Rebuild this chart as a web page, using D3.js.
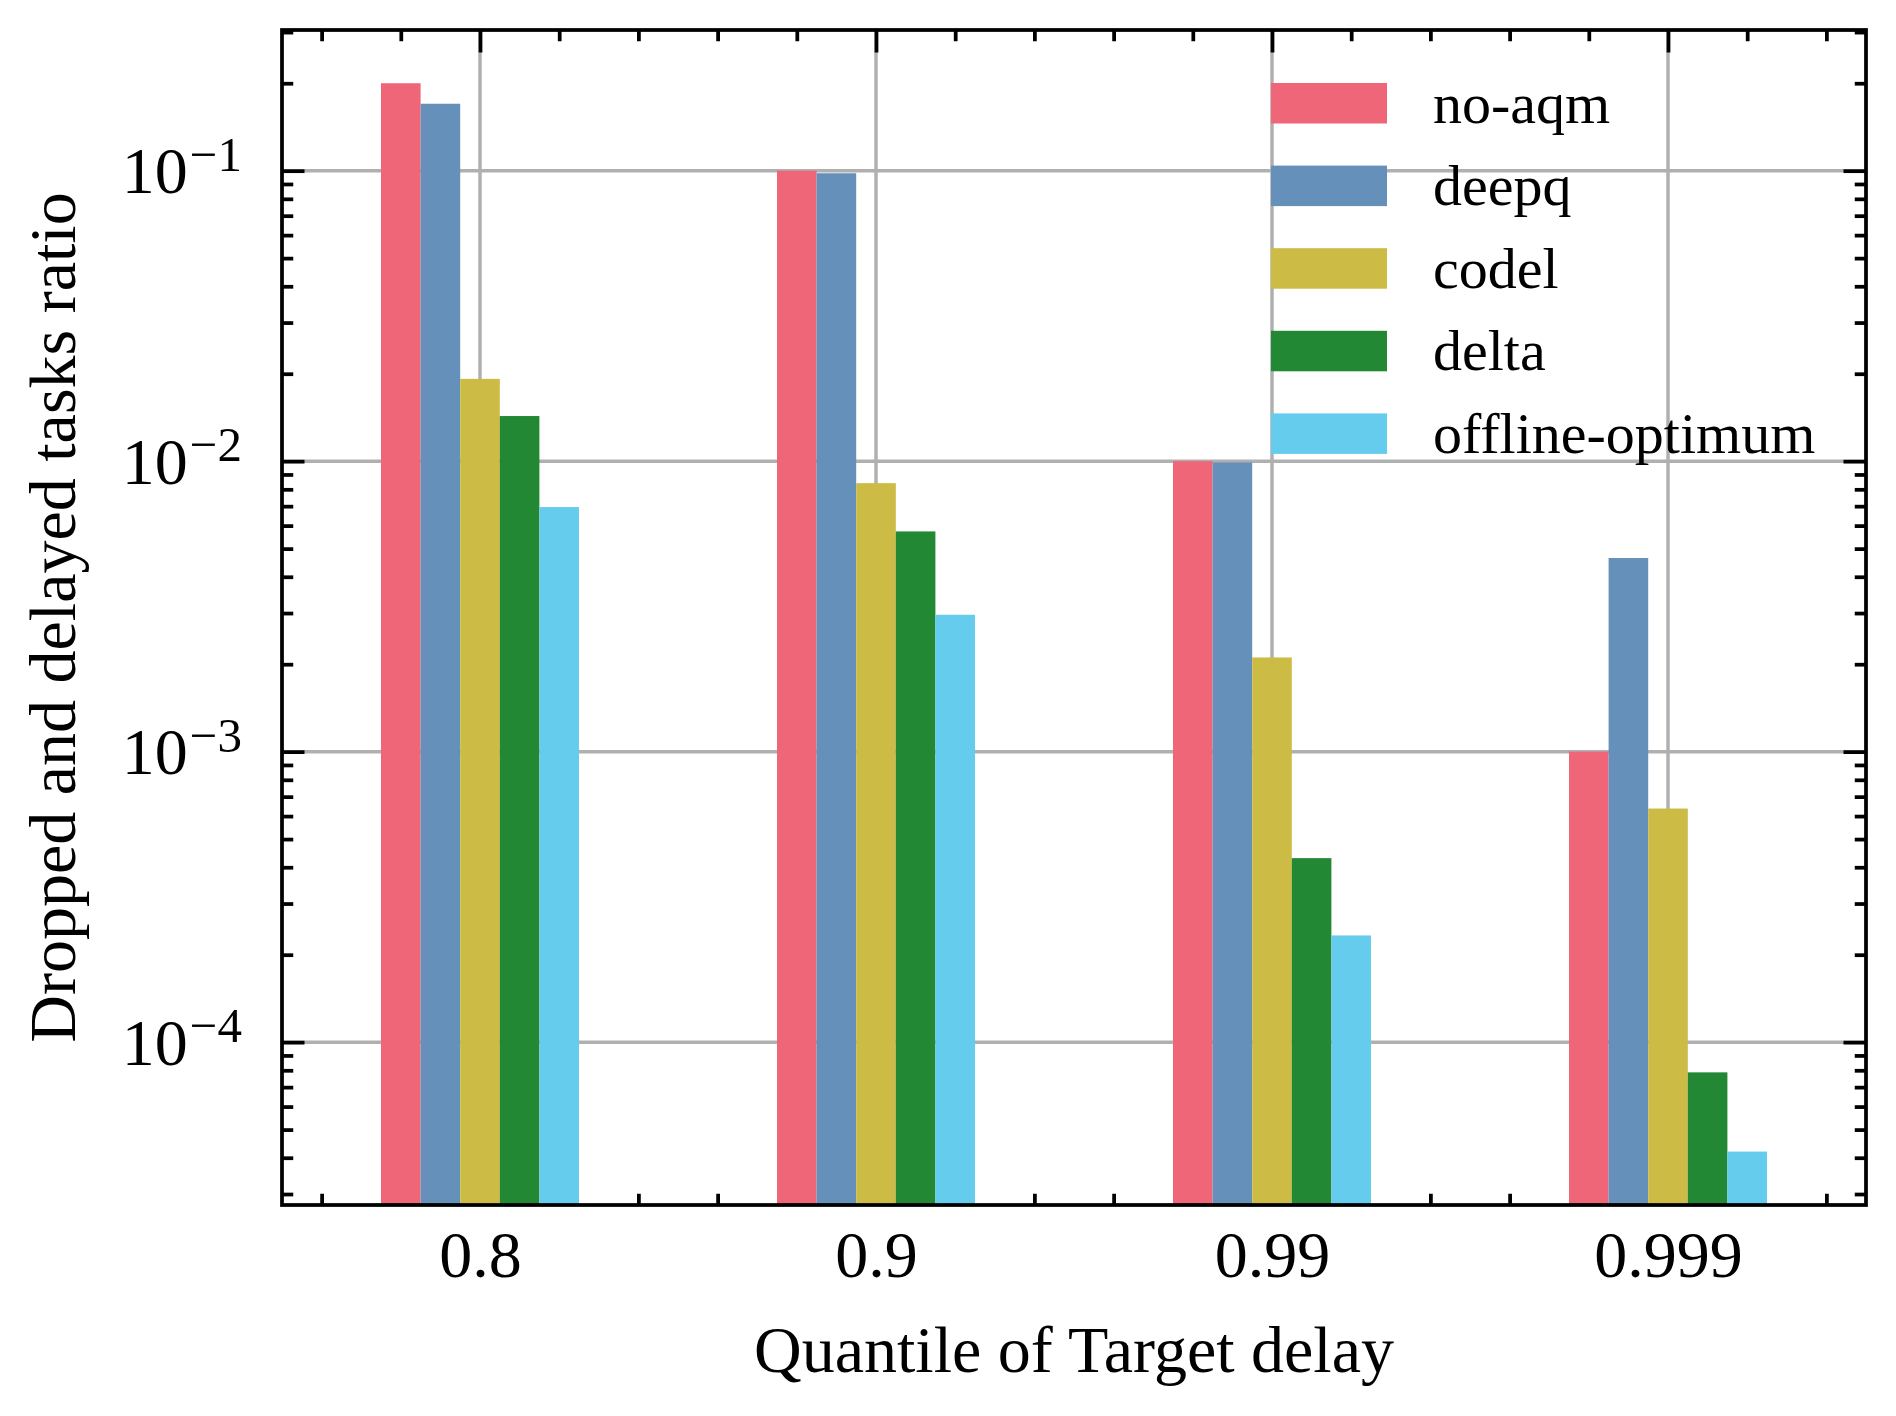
<!DOCTYPE html>
<html>
<head>
<meta charset="utf-8">
<script src="https://cdn.jsdelivr.net/npm/d3@7"></script>
<style>
  body { margin: 0; background: #fff; }
  svg text { font-family: "Liberation Serif", "Times New Roman", serif; fill: #000; font-variant-ligatures: common-ligatures; }
</style>
</head>
<body>
<div id="chart"></div>
<script>
// Categories on the x axis (quantile of target delay)
const categories = ["0.8", "0.9", "0.99", "0.999"];

// Series names, in legend order
const seriesNames = ["no-aqm", "deepq", "codel", "delta", "offline-optimum"];

// Ratio values, one array per series
const noAqm   = [0.2, 0.1, 0.01, 0.001];
const deepq   = [0.17, 0.098, 0.0099, 0.00464];
const codel   = [0.0192, 0.0084, 0.00211, 0.000637];
const delta   = [0.0143, 0.00573, 0.00043, 0.0000787];
const offline = [0.00695, 0.00296, 0.000233, 0.000042];

const seriesValues = [noAqm, deepq, codel, delta, offline];

// Tick labels
const yMajorTicks = [1e-4, 1e-3, 1e-2, 1e-1];
const yTickExponents = ["\u22124", "\u22123", "\u22122", "\u22121"];

const colors = ["#EE6677", "#6590B9", "#CCBB44", "#228833", "#66CCEE"];

// Layout
const W = 1896, H = 1416;
const plot = { left: 282, right: 1866, top: 30, bottom: 1205 };
const fontSize = 66;
const legendFont = 58;
const majorLen = 22.5, minorLen = 11.25, lw = 3.75;
const barWidth = 0.1;

const svg = d3.select("#chart")
  .append("svg")
  .attr("width", W)
  .attr("height", H)
  .attr("viewBox", `0 0 ${W} ${H}`);

svg.append("rect").attr("width", W).attr("height", H).attr("fill", "#fff");

// Scales
const x = d3.scaleLinear().domain([-0.5, 3.5]).range([plot.left, plot.right]);
const y = d3.scaleLog().domain([2.75e-5, 0.305]).range([plot.bottom, plot.top]);

// minor ticks
const [y0, y1] = y.domain();
const yMinorTicks = [];
for (let e = -5; e <= 0; e++) {
  for (let m = 2; m <= 9; m++) {
    const v = m * Math.pow(10, e);
    if (v >= y0 && v <= y1) yMinorTicks.push(v);
  }
}
const xMajorTicks = d3.range(categories.length);
const xMinorTicks = d3.range(-0.4, 3.5, 0.2)
  .map(v => Math.round(v * 10) / 10)
  .filter(v => Math.abs(v - Math.round(v)) > 1e-6);

// Grid
const grid = svg.append("g").attr("class", "grid")
  .attr("stroke", "#b0b0b0").attr("stroke-width", 3.5);
grid.selectAll("line.gy").data(yMajorTicks).enter().append("line")
  .attr("x1", plot.left).attr("x2", plot.right)
  .attr("y1", d => y(d)).attr("y2", d => y(d));
grid.selectAll("line.gx").data(xMajorTicks).enter().append("line")
  .attr("y1", plot.top).attr("y2", plot.bottom)
  .attr("x1", d => x(d)).attr("x2", d => x(d));

// Inward ticks on all four sides, drawn below the bars
function tickAxis(axis, tr, values, len) {
  const g = svg.append("g")
    .attr("transform", tr)
    .call(axis.tickValues(values).tickSize(-len).tickFormat(""));
  g.select(".domain").remove();
  g.selectAll(".tick line").attr("stroke", "#000").attr("stroke-width", lw);
  return g;
}
tickAxis(d3.axisLeft(y), `translate(${plot.left},0)`, yMajorTicks, majorLen);
tickAxis(d3.axisLeft(y), `translate(${plot.left},0)`, yMinorTicks, minorLen);
tickAxis(d3.axisRight(y), `translate(${plot.right},0)`, yMajorTicks, majorLen);
tickAxis(d3.axisRight(y), `translate(${plot.right},0)`, yMinorTicks, minorLen);
tickAxis(d3.axisBottom(x), `translate(0,${plot.bottom})`, xMajorTicks, majorLen);
tickAxis(d3.axisBottom(x), `translate(0,${plot.bottom})`, xMinorTicks, minorLen);
tickAxis(d3.axisTop(x), `translate(0,${plot.top})`, xMajorTicks, majorLen);
tickAxis(d3.axisTop(x), `translate(0,${plot.top})`, xMinorTicks, minorLen);

// Bars
const bars = [];
seriesValues.forEach((vals, j) => {
  vals.forEach((v, i) => {
    bars.push({ series: j, cat: i, value: v });
  });
});
svg.append("g").attr("class", "bars")
  .selectAll("rect").data(bars).enter().append("rect")
  .attr("x", d => x(d.cat + (d.series - 2) * barWidth - barWidth / 2))
  .attr("width", x(barWidth) - x(0))
  .attr("y", d => y(d.value))
  .attr("height", d => plot.bottom - y(d.value))
  .attr("fill", d => colors[d.series]);

// Spines
svg.append("rect")
  .attr("x", plot.left).attr("y", plot.top)
  .attr("width", plot.right - plot.left)
  .attr("height", plot.bottom - plot.top)
  .attr("fill", "none")
  .attr("stroke", "#000")
  .attr("stroke-width", lw);

// X tick labels
const xLabels = svg.append("g")
  .attr("transform", `translate(0,${plot.bottom})`)
  .call(d3.axisBottom(x).tickValues(xMajorTicks).tickSize(0).tickPadding(25)
    .tickFormat(i => categories[i]));
xLabels.select(".domain").remove();
xLabels.selectAll("text")
  .attr("font-size", fontSize)
  .attr("font-family", "Liberation Serif, serif")
  .attr("fill", "#000");

// Y tick labels (10 with superscript exponent)
const yl = svg.append("g").attr("class", "ylabels");
yMajorTicks.forEach((v, i) => {
  const t = yl.append("text")
    .attr("x", 242)
    .attr("y", y(v) + 22.6)
    .attr("text-anchor", "end")
    .attr("font-size", fontSize);
  t.append("tspan").text("10");
  t.append("tspan")
    .attr("font-size", 49)
    .attr("dx", 2)
    .attr("dy", -22.6)
    .text(yTickExponents[i]);
});

// Axis titles
svg.append("text")
  .attr("x", (plot.left + plot.right) / 2)
  .attr("y", 1372)
  .attr("text-anchor", "middle")
  .attr("font-size", fontSize)
  .text("Quantile of Target delay");

svg.append("text")
  .attr("transform", `translate(75,${(plot.top + plot.bottom) / 2}) rotate(-90)`)
  .attr("text-anchor", "middle")
  .attr("font-size", fontSize)
  .text("Dropped and delayed tasks ratio");

// Legend (no frame)
const legend = svg.append("g").attr("class", "legend");
seriesNames.forEach((name, j) => {
  const top = 83 + j * 82.6;
  legend.append("rect")
    .attr("x", 1271).attr("y", top)
    .attr("width", 116).attr("height", 40.5)
    .attr("fill", colors[j]);
  legend.append("text")
    .attr("x", 1433).attr("y", top + 39.5)
    .attr("font-size", legendFont)
    .text(name);
});
</script>
</body>
</html>
